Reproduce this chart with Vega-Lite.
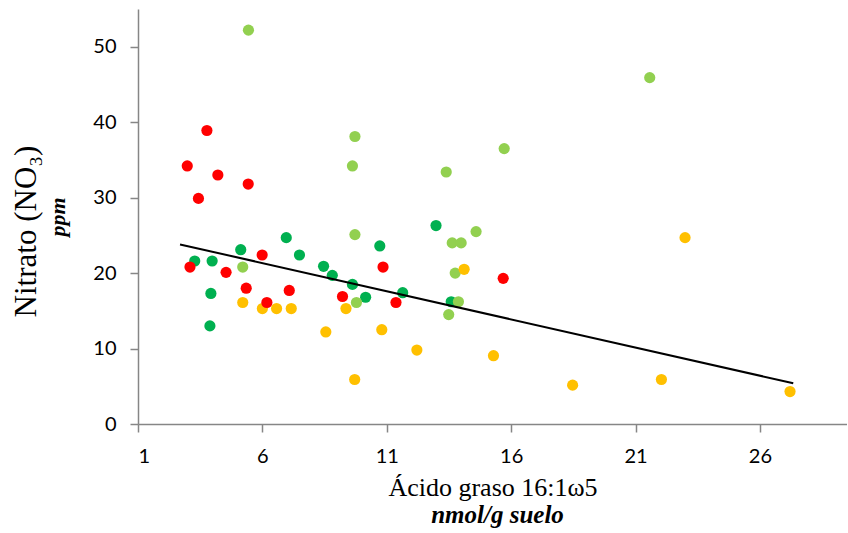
{
  "$schema": "https://vega.github.io/schema/vega-lite/v6.json",
  "background": "white",
  "padding": {"left": 10, "top": 9, "right": 0, "bottom": 0},
  "config": {
    "view": {"stroke": null},
    "axis": {"grid": false, "domainColor": "#868686", "tickColor": "#868686", "domainWidth": 1.5, "tickWidth": 1.5, "tickSize": 8, "labelFont": "Lato", "labelFontSize": 20, "labelColor": "black", "titleColor": "black"}
  },
  "datasets": {
    "trend": [{"x": 2.69, "y": 23.8}, {"x": 27.34, "y": 5.4}]
  },
  "title": {"text": "Nitrato (NO₃)", "orient": "left", "anchor": "middle", "font": "Liberation Serif", "fontSize": 31, "fontWeight": "normal", "color": "black", "offset": 4, "dx": 37},
  "vconcat": [
    {
      "width": 709,
      "height": 415,
      "title": {"text": "nmol/g suelo", "orient": "bottom", "frame": "group", "anchor": "middle", "font": "Liberation Serif", "fontStyle": "italic", "fontWeight": "bold", "fontSize": 25, "color": "black", "offset": 3, "dx": 5},
      "data": {"values": [
        {"serie": "B", "x": 3.28, "y": 21.6},
        {"serie": "B", "x": 3.98, "y": 21.6},
        {"serie": "B", "x": 3.93, "y": 17.3},
        {"serie": "B", "x": 3.89, "y": 13.0},
        {"serie": "B", "x": 5.13, "y": 23.1},
        {"serie": "B", "x": 6.96, "y": 24.7},
        {"serie": "B", "x": 7.49, "y": 22.4},
        {"serie": "B", "x": 8.46, "y": 20.9},
        {"serie": "B", "x": 8.81, "y": 19.7},
        {"serie": "B", "x": 9.62, "y": 18.5},
        {"serie": "B", "x": 10.15, "y": 16.8},
        {"serie": "B", "x": 10.72, "y": 23.6},
        {"serie": "B", "x": 11.64, "y": 17.4},
        {"serie": "B", "x": 12.98, "y": 26.3},
        {"serie": "B", "x": 13.59, "y": 16.2},
        {"serie": "C", "x": 5.44, "y": 52.2},
        {"serie": "C", "x": 5.21, "y": 20.8},
        {"serie": "C", "x": 9.72, "y": 38.1},
        {"serie": "C", "x": 9.62, "y": 34.2},
        {"serie": "C", "x": 9.72, "y": 25.1},
        {"serie": "C", "x": 9.78, "y": 16.1},
        {"serie": "C", "x": 13.39, "y": 33.4},
        {"serie": "C", "x": 15.72, "y": 36.5},
        {"serie": "C", "x": 14.59, "y": 25.5},
        {"serie": "C", "x": 13.63, "y": 24.0},
        {"serie": "C", "x": 13.99, "y": 24.0},
        {"serie": "C", "x": 13.75, "y": 20.0},
        {"serie": "C", "x": 13.88, "y": 16.2},
        {"serie": "C", "x": 13.49, "y": 14.5},
        {"serie": "C", "x": 21.57, "y": 45.9},
        {"serie": "D", "x": 5.21, "y": 16.1},
        {"serie": "D", "x": 6.0, "y": 15.3},
        {"serie": "D", "x": 6.57, "y": 15.3},
        {"serie": "D", "x": 7.16, "y": 15.3},
        {"serie": "D", "x": 9.36, "y": 15.3},
        {"serie": "D", "x": 8.55, "y": 12.2},
        {"serie": "D", "x": 10.8, "y": 12.5},
        {"serie": "D", "x": 12.21, "y": 9.8},
        {"serie": "D", "x": 15.29, "y": 9.05},
        {"serie": "D", "x": 14.11, "y": 20.5},
        {"serie": "D", "x": 22.99, "y": 24.7},
        {"serie": "D", "x": 22.04, "y": 5.9},
        {"serie": "D", "x": 27.21, "y": 4.3},
        {"serie": "D", "x": 18.47, "y": 5.15},
        {"serie": "D", "x": 9.71, "y": 5.9},
        {"serie": "A", "x": 3.77, "y": 38.9},
        {"serie": "A", "x": 2.98, "y": 34.2},
        {"serie": "A", "x": 4.21, "y": 33.0},
        {"serie": "A", "x": 5.43, "y": 31.8},
        {"serie": "A", "x": 3.43, "y": 29.9},
        {"serie": "A", "x": 5.99, "y": 22.4},
        {"serie": "A", "x": 3.09, "y": 20.8},
        {"serie": "A", "x": 10.85, "y": 20.8},
        {"serie": "A", "x": 4.54, "y": 20.1},
        {"serie": "A", "x": 5.35, "y": 18.0},
        {"serie": "A", "x": 7.08, "y": 17.7},
        {"serie": "A", "x": 9.22, "y": 16.9},
        {"serie": "A", "x": 11.37, "y": 16.1},
        {"serie": "A", "x": 6.18, "y": 16.1},
        {"serie": "A", "x": 15.68, "y": 19.3}
      ]},
      "layer": [
        {
          "mark": {"type": "point", "filled": true, "opacity": 1, "size": 125, "shape": "circle"},
          "encoding": {
            "x": {"field": "x", "type": "quantitative",
              "scale": {"domain": [1, 29.5], "nice": false, "zero": false},
              "axis": {"values": [1, 6, 11, 16, 21, 26], "title": "Ácido graso 16:1ω5", "titleFont": "Liberation Serif", "titleFontSize": 26, "titleFontWeight": "normal", "labelPadding": 14, "titlePadding": 8}},
            "y": {"field": "y", "type": "quantitative",
              "scale": {"domain": [0, 55], "nice": false},
              "axis": {"values": [0, 10, 20, 30, 40, 50], "title": "ppm", "titleFont": "Liberation Serif", "titleFontSize": 22, "titleFontWeight": "bold", "titleFontStyle": "italic", "labelPadding": 14, "titlePadding": 23}},
            "color": {"field": "serie", "type": "nominal", "legend": null,
              "scale": {"domain": ["A", "B", "C", "D"], "range": ["#FF0000", "#00B050", "#92D050", "#FFC000"]}}
          }
        },
        {
          "data": {"name": "trend"},
          "mark": {"type": "line", "color": "black", "strokeWidth": 2},
          "encoding": {
            "x": {"field": "x", "type": "quantitative"},
            "y": {"field": "y", "type": "quantitative"}
          }
        }
      ]
    }
  ]
}
